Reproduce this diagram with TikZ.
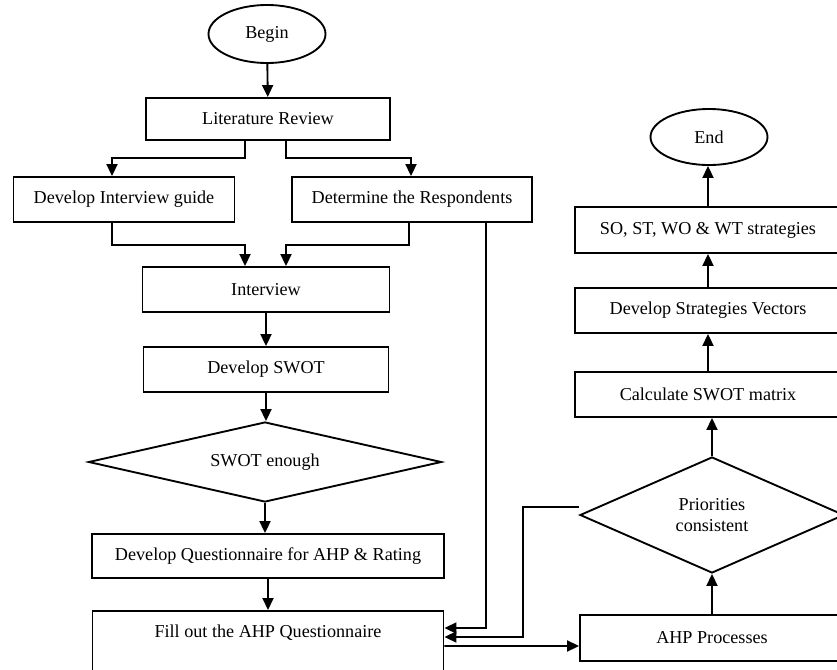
\documentclass[tikz,border=0pt]{standalone}
\usepackage{fontspec}
\setmainfont{Liberation Serif}
\usepackage{tikz}
\usetikzlibrary{shapes.geometric, arrows.meta, positioning}

\begin{document}
\begin{tikzpicture}[x=0.03cm, y=-0.03cm,
		font=\fontsize{15.5}{18.5}\selectfont,
		box/.style={draw, line width=1.6pt, rectangle, minimum height=1.35cm, inner sep=2pt},
		decision/.style={draw, line width=1.6pt, diamond, inner sep=0pt, align=center},
		terminal/.style={draw, line width=1.6pt, ellipse, minimum width=3.51cm, minimum height=1.74cm},
		arr/.style={line width=1.6pt, -{Triangle[length=0.36cm, width=0.33cm]}}]

		\useasboundingbox (0,0) rectangle (837,669);

		% left column
		\node[terminal] (begin) at (267,34) {Begin};
		\node[box, minimum width=7.32cm, minimum height=1.26cm] (lit) at (268,119) {Literature Review};
		\node[box, minimum width=6.63cm] (guide) at (124,199.5) {Develop Interview guide};
		\node[box, minimum width=7.2cm] (resp) at (412,199.5) {Determine the Respondents};
		\node[box, minimum width=7.41cm] (interview) at (266,289.5) {Interview};
		\node[box, minimum width=7.35cm] (devswot) at (266,369.5) {Develop SWOT};
		\node[decision, aspect=4.4, minimum width=10.59cm, minimum height=2.4cm] (enough) at (265,462) {SWOT enough};
		\node[box, minimum width=10.56cm, minimum height=1.32cm] (quest) at (268,556) {Develop Questionnaire for AHP \& Rating};
		\node[box, anchor=north, minimum width=10.53cm, inner ysep=0.3cm, text height=0.5cm, text depth=2.3cm] (fill) at (268,610) {Fill out the AHP Questionnaire};

		% right column
		\node[terminal, minimum height=1.68cm] (end) at (709,137) {End};
		\node[box, minimum width=7.98cm, minimum height=1.38cm] (strat) at (708,230) {SO, ST, WO \& WT strategies};
		\node[box, minimum width=7.98cm] (vectors) at (708,310.5) {Develop Strategies Vectors};
		\node[box, minimum width=7.98cm] (matrix) at (708,394.5) {Calculate SWOT matrix};
		\node[decision, aspect=2.28, minimum width=7.92cm, minimum height=3.48cm] (prio) at (712,515) {Priorities\\consistent};
		\node[box, minimum width=7.92cm, minimum height=1.38cm] (ahp) at (712,638) {AHP Processes};

		\draw[arr] (begin) -- (lit);
		\draw[arr] ([xshift=-0.69cm]lit.south) |- ([xshift=-0.36cm, yshift=0.54cm]guide.north) -- ([xshift=-0.36cm]guide.north);
		\draw[arr] ([xshift=0.54cm]lit.south) |- ([xshift=-0.03cm, yshift=0.54cm]resp.north) -- ([xshift=-0.03cm]resp.north);
		\draw[arr] ([xshift=-0.36cm]guide.south) |- ([xshift=-0.63cm, yshift=0.63cm]interview.north) -- ([xshift=-0.63cm]interview.north);
		\draw[arr] ([xshift=-0.09cm]resp.south) |- ([xshift=0.6cm, yshift=0.63cm]interview.north) -- ([xshift=0.6cm]interview.north);
		\draw[arr] ([xshift=2.22cm]resp.south) |- ([yshift=-0.54cm]fill.north east);
		\draw[arr] (interview) -- (devswot);
		\draw[arr] (devswot.south) -- (devswot.south |- enough.north);
		\draw[arr] (enough.south) -- (enough.south |- quest.north);
		\draw[arr] (quest) -- (fill);

		\draw[arr] ([yshift=0.24cm]prio.west) -- ++(-56,0) |- ([yshift=-0.81cm]fill.north east);
		\draw[arr] ([yshift=-1.08cm]fill.north east) -- ([yshift=-0.24cm]ahp.west);
		\draw[arr] (ahp) -- (prio);
		\draw[arr] (prio.north) -- (prio.north |- matrix.south);
		\draw[arr] (matrix.north) -- (matrix.north |- vectors.south);
		\draw[arr] (vectors.north) -- (vectors.north |- strat.south);
		\draw[arr] (strat.north) -- (strat.north |- end.south);
	\end{tikzpicture}
\end{document}
